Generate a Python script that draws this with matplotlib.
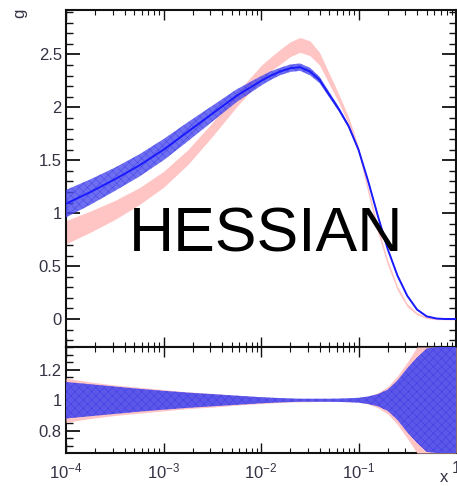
import numpy as np
import matplotlib
matplotlib.use("Agg")
import matplotlib.pyplot as plt
from matplotlib.ticker import FixedLocator, MultipleLocator, NullFormatter

plt.rcParams['font.family'] = ['Liberation Sans', 'DejaVu Sans']
plt.rcParams['mathtext.default'] = 'regular'
plt.rcParams['hatch.linewidth'] = 0.3

# ---- data (log10 x grid) ----
logx = [-4, -3.75, -3.5, -3.25, -3, -2.75, -2.5, -2.25, -2, -1.9, -1.8, -1.7, -1.6,
        -1.5, -1.4, -1.3, -1.2, -1.1, -1.0, -0.9, -0.8, -0.7, -0.6, -0.5, -0.4,
        -0.3, -0.2, -0.1, 0.0]

hessian_g = [1.09, 1.20, 1.32, 1.45, 1.60, 1.77, 1.94, 2.11, 2.25, 2.30, 2.34, 2.37, 2.38,
             2.34, 2.26, 2.12, 1.98, 1.82, 1.60, 1.30, 0.97, 0.66, 0.41, 0.22, 0.09,
             0.025, 0.005, 0.0, 0.0]
hessian_err = [0.13, 0.12, 0.11, 0.105, 0.10, 0.09, 0.075, 0.06, 0.045, 0.04, 0.035, 0.035, 0.035,
               0.035, 0.03, 0.025, 0.02, 0.015, 0.012, 0.012, 0.012, 0.01, 0.01, 0.008, 0.006,
               0.005, 0.005, 0.005, 0.005]

ref_g = [0.82, 0.92, 1.03, 1.16, 1.32, 1.53, 1.79, 2.07, 2.33, 2.41, 2.48, 2.55, 2.59,
         2.56, 2.46, 2.27, 2.08, 1.87, 1.60, 1.21, 0.84, 0.53, 0.29, 0.13, 0.05,
         0.012, 0.0, 0.0, 0.0]
ref_err = [0.11, 0.10, 0.09, 0.08, 0.075, 0.07, 0.065, 0.065, 0.065, 0.065, 0.07, 0.07, 0.07,
           0.07, 0.06, 0.05, 0.04, 0.035, 0.03, 0.03, 0.03, 0.025, 0.02, 0.015, 0.01,
           0.008, 0.006, 0.006, 0.006]

ratio_ref_err = [0.145, 0.12, 0.10, 0.085, 0.07, 0.055, 0.045, 0.032, 0.022, 0.018, 0.015, 0.012, 0.01,
                 0.01, 0.008, 0.008, 0.008, 0.01, 0.012, 0.025, 0.05, 0.09, 0.16, 0.25, 0.36,
                 0.55, 0.8, 1.2, 2.0]
ratio_hess_err = [0.12, 0.105, 0.09, 0.075, 0.062, 0.05, 0.04, 0.03, 0.02, 0.017, 0.014, 0.012, 0.01,
                  0.01, 0.01, 0.01, 0.011, 0.013, 0.016, 0.025, 0.04, 0.07, 0.13, 0.21, 0.28,
                  0.34, 0.46, 0.8, 1.2]

xticks = [1e-4, 1e-3, 1e-2, 1e-1, 1.0]
xticklabels = [r'$10^{-4}$', r'$10^{-3}$', r'$10^{-2}$', r'$10^{-1}$', '1']
top_yticks = [0, 0.5, 1, 1.5, 2, 2.5]
top_yticklabels = ['0', '0.5', '1', '1.5', '2', '2.5']
bot_yticks = [0.8, 1.0, 1.2]
bot_yticklabels = ['0.8', '1', '1.2']

x = 10 ** np.array(logx)
hg = np.array(hessian_g); he = np.array(hessian_err)
rg = np.array(ref_g); re_ = np.array(ref_err)
rr = np.array(ratio_ref_err); rh = np.array(ratio_hess_err)

W, H = 457, 486
fig = plt.figure(figsize=(W / 100, H / 100), dpi=100)
ax1 = fig.add_axes([66 / W, 1 - 347 / H, 390 / W, 337 / H])
ax2 = fig.add_axes([66 / W, 1 - 453 / H, 390 / W, 106 / H], sharex=ax1)

PINK = '#ffc4c4'
BLUE = '#4a4aee'
LABC = '#333344'

# top panel
ax1.fill_between(x, rg - re_, rg + re_, color=PINK, lw=0, zorder=2)
ax1.fill_between(x, hg - he, hg + he, facecolor=BLUE, alpha=0.8, lw=0,
                 edgecolor='#3535e0', hatch='xxxx', zorder=3)
ax1.plot(x, hg, color='#1a1aff', lw=1.4, zorder=4)
ax1.set_xscale('log')
ax1.set_xlim(1e-4, 1.0)
ax1.set_ylim(-0.264, 2.92)

# bottom panel
lo2, hi2 = 0.653, 1.35
ax2.fill_between(x, np.clip(1 - rr, lo2, hi2), np.clip(1 + rr, lo2, hi2), color=PINK, lw=0, zorder=3)
ax2.fill_between(x, np.clip(1 - rh, lo2, hi2), np.clip(1 + rh, lo2, hi2), facecolor=BLUE,
                 alpha=0.9, lw=0, edgecolor='#3535e0', hatch='xxxx', zorder=4)
ax2.set_ylim(lo2, hi2)

for ax in (ax1, ax2):
    for s in ax.spines.values():
        s.set_linewidth(1.5)
        s.set_color('#111111')
        s.set_zorder(2.5)
    ax.tick_params(which='both', direction='in', top=True, right=True, color='#111111',
                   labelcolor=LABC, labelsize=12)
    ax.tick_params(axis='x', which='major', length=7, width=1.0)
    ax.tick_params(axis='x', which='minor', length=3.5, width=0.8)

ax1.tick_params(axis='y', which='major', length=10, width=1.3)
ax1.tick_params(axis='y', which='minor', length=5, width=1.0)
ax2.tick_params(axis='y', which='major', length=10, width=1.3)
ax2.tick_params(axis='y', which='minor', length=5, width=1.0)

ax1.yaxis.set_major_locator(FixedLocator(top_yticks))
ax1.set_yticklabels(top_yticklabels)
ax1.yaxis.set_minor_locator(MultipleLocator(0.1))
ax2.yaxis.set_major_locator(FixedLocator(bot_yticks))
ax2.set_yticklabels(bot_yticklabels)
ax2.yaxis.set_minor_locator(MultipleLocator(0.05))

ax2.xaxis.set_major_locator(FixedLocator(xticks))
ax2.set_xticklabels(xticklabels)
ax2.xaxis.set_minor_locator(matplotlib.ticker.LogLocator(base=10, subs=np.arange(2, 10)))
ax2.xaxis.set_minor_formatter(NullFormatter())
plt.setp(ax1.get_xticklabels(), visible=False)
ax2.tick_params(axis='x', pad=6)
ax1.tick_params(axis='y', pad=3)
ax2.tick_params(axis='y', pad=3)

ax1.text(0.514, 0.282, 'HESSIAN', transform=ax1.transAxes, ha='center', va='baseline',
         fontsize=45, color='black', zorder=6)

fig.text(20 / W, 1 - 13 / H, 'g', rotation=90, ha='center', va='center', fontsize=12, color=LABC)
fig.text(444 / W, 1 - 477 / H, 'x', ha='center', va='center', fontsize=12, color=LABC)

fig.savefig('out.png', dpi=100)
